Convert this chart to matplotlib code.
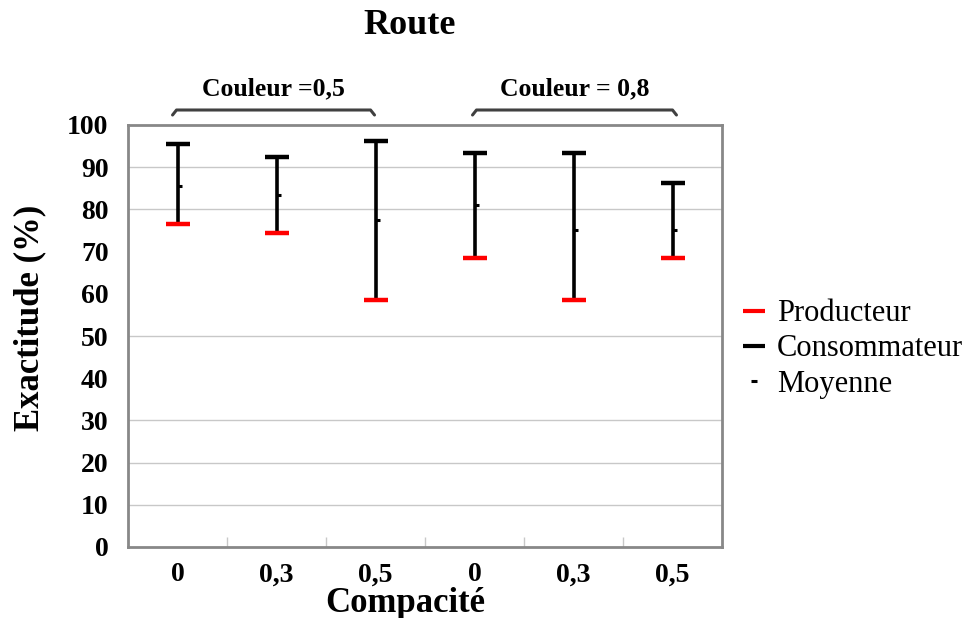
import matplotlib
matplotlib.use("Agg")
import matplotlib.pyplot as plt
import matplotlib.transforms as mtransforms
from matplotlib.lines import Line2D
import numpy as np

# ---- data ----
categories = ["0", "0,3", "0,5", "0", "0,3", "0,5"]
producteur = [76.5, 74.3, 58.5, 68.6, 58.5, 68.6]
consommateur = [95.5, 92.5, 96.3, 93.3, 93.3, 86.3]
moyenne = [85.5, 83.5, 77.5, 81.0, 75.2, 75.2]
groups = ["Couleur =0,5", "Couleur = 0,8"]
group_spans = [(-0.05, 1.99), (2.98, 5.04)]
yticks = [0, 10, 20, 30, 40, 50, 60, 70, 80, 90, 100]
grid_vals = [10, 20, 30, 50, 80, 90]

serif = ["Liberation Serif", "DejaVu Serif"]
plt.rcParams["font.family"] = serif

fig = plt.figure(figsize=(9.68, 6.18), dpi=100)
ax = fig.add_axes([128 / 968, 1 - 547 / 618, 594 / 968, 422 / 618])

x = np.arange(len(categories))
ax.set_xlim(-0.5, len(categories) - 0.5)
ax.set_ylim(0, 100)

for g in grid_vals:
    ax.axhline(g, color="#c8c8c8", lw=1.0, zorder=0)

ax.vlines(x, producteur, consommateur, color="black", lw=2.6, zorder=3)
ax.plot(x, consommateur, ls="none", marker="_", ms=17, mew=3.2, color="black", zorder=4)
ax.plot(x, producteur, ls="none", marker="_", ms=17, mew=3.2, color="red", zorder=4)
off = mtransforms.offset_copy(ax.transData, fig=fig, x=2, y=0, units="dots")
ax.plot(x, moyenne, ls="none", marker="_", ms=3.5, mew=2.2, color="black", zorder=5, transform=off)

for s in ax.spines.values():
    s.set_color("#888888")
    s.set_linewidth(2)

ax.set_yticks(yticks)
ax.set_yticklabels([str(v) for v in yticks], fontsize=20, fontweight="bold")
ax.tick_params(axis="y", length=0, pad=14)
ax.set_xticks(x)
ax.set_xticklabels(categories, fontsize=20, fontweight="bold")
ax.tick_params(axis="x", length=0, pad=11)
ax.set_xticks(np.arange(len(categories) - 1) + 0.5, minor=True)
ax.tick_params(axis="x", which="minor", direction="in", length=7, color="#c8c8c8", width=1)

fig.text(30 / 968, 1 - 318 / 618, "Exactitude (%)", rotation=90, ha="center", va="center",
         fontsize=25, fontweight="bold")
fig.text(405 / 968, 1 - 603 / 618, "Compacité", ha="center", va="center",
         fontsize=25, fontweight="bold")
fig.text(410 / 968, 1 - 26 / 618, "Route", ha="center", va="center",
         fontsize=26, fontweight="bold")

trans = mtransforms.blended_transform_factory(ax.transData, ax.transAxes)
y_line = (547 - 110) / 422
y_hook = (547 - 115) / 422
y_text = (547 - 89) / 422
for (a, b), label in zip(group_spans, groups):
    ax.plot([a, a + 0.04, b - 0.04, b], [y_hook, y_line, y_line, y_hook], color="#404040",
            lw=2.2, transform=trans, clip_on=False, solid_capstyle="round")
    ax.text((a + b) / 2, y_text, label, transform=trans, ha="center", va="center",
            fontsize=18.5, fontweight="bold")

handles = [
    Line2D([], [], ls="none", marker="_", ms=16, mew=3, color="red"),
    Line2D([], [], ls="none", marker="_", ms=16, mew=3, color="black"),
    Line2D([], [], ls="none", marker="_", ms=4, mew=2.2, color="black"),
]
fig.legend(handles, ["Producteur", "Consommateur", "Moyenne"], loc="center left",
           bbox_to_anchor=(742 / 968, 1 - 349 / 618), frameon=False, fontsize=22,
           handlelength=0.8, handletextpad=0.35, labelspacing=0.2, borderaxespad=0,
           borderpad=0)

fig.savefig("out.png", dpi=100)
